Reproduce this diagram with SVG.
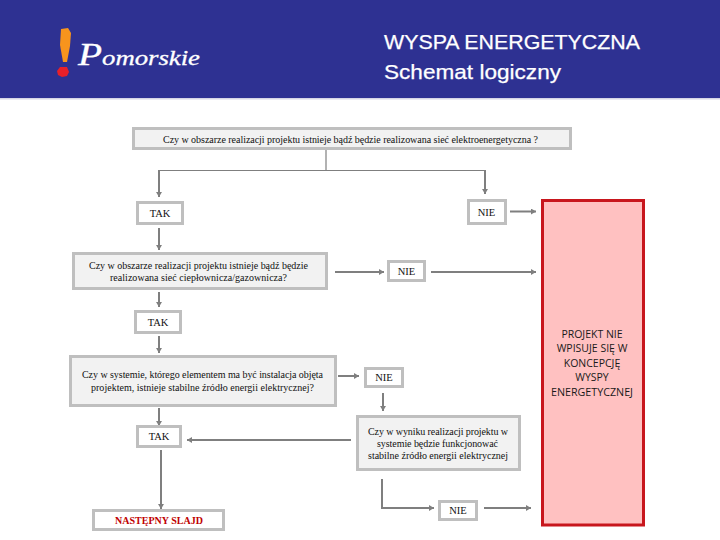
<svg xmlns="http://www.w3.org/2000/svg" width="720" height="540" viewBox="0 0 720 540">
<style>
.q{fill:#f2f2f2;stroke:#bfbfbf;stroke-width:3}
.a{fill:#fff;stroke:#bfbfbf;stroke-width:3}
.t{font-family:"Liberation Serif",serif;font-size:10px;fill:#111}
.l{font-family:"Liberation Serif",serif;font-size:10.5px;fill:#111;text-anchor:middle}
.h{font-family:"Liberation Sans",Arial,sans-serif;font-size:20.5px;fill:#fff;stroke:#fff;stroke-width:.25}
.c{fill:none;stroke:#7f7f7f;stroke-width:2;marker-end:url(#m)}
.n{fill:none;stroke:#7f7f7f;stroke-width:1.2}
.r{font-family:"Open Sans","Noto Sans",sans-serif;font-size:10.5px;fill:#1a1a1a;text-anchor:middle}
</style>
<defs><marker id="m" markerUnits="userSpaceOnUse" markerWidth="6" markerHeight="6" refX="5" refY="3" orient="auto"><path d="M0 0L5 3L0 6Z" fill="#7f7f7f"/></marker></defs>
<g id="header">
<rect width="720" height="98" fill="#2e3192"/>
<rect y="98" width="720" height="1.5" fill="#d5d5e5"/>
<path d="M61 29L68 28L71 33L70 46L67 62L63 62L60 45Z" fill="#f7941d"/>
<path d="M57 71L60 67L67 67L69 72L67 76L62 77L58 75Z" fill="#e8202a"/>
<text x="78" y="65" font-family="Liberation Serif,serif" font-style="italic" font-size="21" fill="#fff" stroke="#fff" stroke-width=".3" textLength="122" lengthAdjust="spacingAndGlyphs"><tspan font-size="31">P</tspan>omorskie</text>
<text class="h" x="384" y="49" textLength="256" lengthAdjust="spacingAndGlyphs">WYSPA ENERGETYCZNA</text>
<text class="h" x="384" y="79" textLength="177" lengthAdjust="spacingAndGlyphs">Schemat logiczny</text>
</g>
<g id="connectors">
<path class="n" d="M326 150V170"/>
<path class="n" d="M159 170.500H485"/>
<path class="c" d="M159 170V197"/>
<path class="c" d="M485 170V194"/>
<path class="c" d="M159 228V250"/>
<path class="c" d="M510 211.500H536"/>
<path class="c" d="M335 272H384"/>
<path class="c" d="M431 272H536"/>
<path class="c" d="M159 292V307"/>
<path class="c" d="M159 336V353"/>
<path class="c" d="M338 376H359"/>
<path class="c" d="M159 408V426"/>
<path class="c" d="M383 393V411"/>
<path class="c" d="M351 440H187"/>
<path class="c" d="M161 450V509"/>
<path class="c" d="M382 479V508H434"/>
<path class="c" d="M484 508H531"/>
</g>
<g id="q1"><rect class="q" x="133.500" y="128.500" width="437" height="20"/>
<text class="t" x="163" y="143" textLength="375" lengthAdjust="spacing">Czy w obszarze realizacji projektu istnieje bądź będzie realizowana sieć elektroenergetyczna ?</text></g>
<g id="tak1"><rect class="a" x="137.500" y="202.500" width="45" height="21"/><text class="l" x="160" y="217">TAK</text></g>
<g id="nie1"><rect class="a" x="468.500" y="200.500" width="37" height="23"/><text class="l" x="486.500" y="216">NIE</text></g>
<g id="q2"><rect class="q" x="73.500" y="253.500" width="253" height="35"/>
<text class="t" x="89" y="269" textLength="219">Czy w obszarze realizacji projektu istnieje bądź będzie</text>
<text class="t" x="110" y="281" textLength="177">realizowana sieć ciepłownicza/gazownicza?</text></g>
<g id="nie2"><rect class="a" x="388.500" y="261.500" width="36" height="19"/><text class="l" x="406.500" y="275">NIE</text></g>
<g id="tak2"><rect class="a" x="135.500" y="311.500" width="45" height="21"/><text class="l" x="158" y="326">TAK</text></g>
<g id="q3"><rect class="q" x="70.500" y="356.500" width="265" height="49"/>
<text class="t" x="82" y="378" textLength="241">Czy w systemie, którego elementem ma być instalacja objęta</text>
<text class="t" x="91" y="391" textLength="223">projektem, istnieje stabilne źródło energii elektrycznej?</text></g>
<g id="nie3"><rect class="a" x="365.500" y="368.500" width="37" height="18"/><text class="l" x="384" y="381">NIE</text></g>
<g id="q4"><rect class="q" x="357.500" y="416.500" width="162" height="53"/>
<text class="t" x="368" y="435" textLength="140">Czy w wyniku realizacji projektu w</text>
<text class="t" x="377" y="447" textLength="121">systemie będzie funkcjonować</text>
<text class="t" x="368" y="459" textLength="140">stabilne źródło energii elektrycznej</text></g>
<g id="tak3"><rect class="a" x="137.500" y="426.500" width="43" height="20"/><text class="l" x="159" y="440">TAK</text></g>
<g id="next"><rect class="a" x="93.500" y="510.500" width="130" height="19"/>
<text x="159" y="524" font-family="Liberation Serif,serif" font-size="10" font-weight="bold" fill="#c00000" text-anchor="middle" textLength="88">NASTĘPNY SLAJD</text></g>
<g id="nie4"><rect class="a" x="439.500" y="501.500" width="37" height="18"/><text class="l" x="458" y="514">NIE</text></g>
<g id="end"><rect x="542.500" y="200.500" width="101" height="324.500" fill="#ffc1c1" stroke="#c8161d" stroke-width="3"/>
<text class="r" x="592" y="338">PROJEKT NIE</text>
<text class="r" x="592" y="352">WPISUJE SIĘ W</text>
<text class="r" x="592" y="367">KONCEPCJĘ</text>
<text class="r" x="592" y="381">WYSPY</text>
<text class="r" x="592" y="396" textLength="82" lengthAdjust="spacingAndGlyphs">ENERGETYCZNEJ</text></g>
</svg>
